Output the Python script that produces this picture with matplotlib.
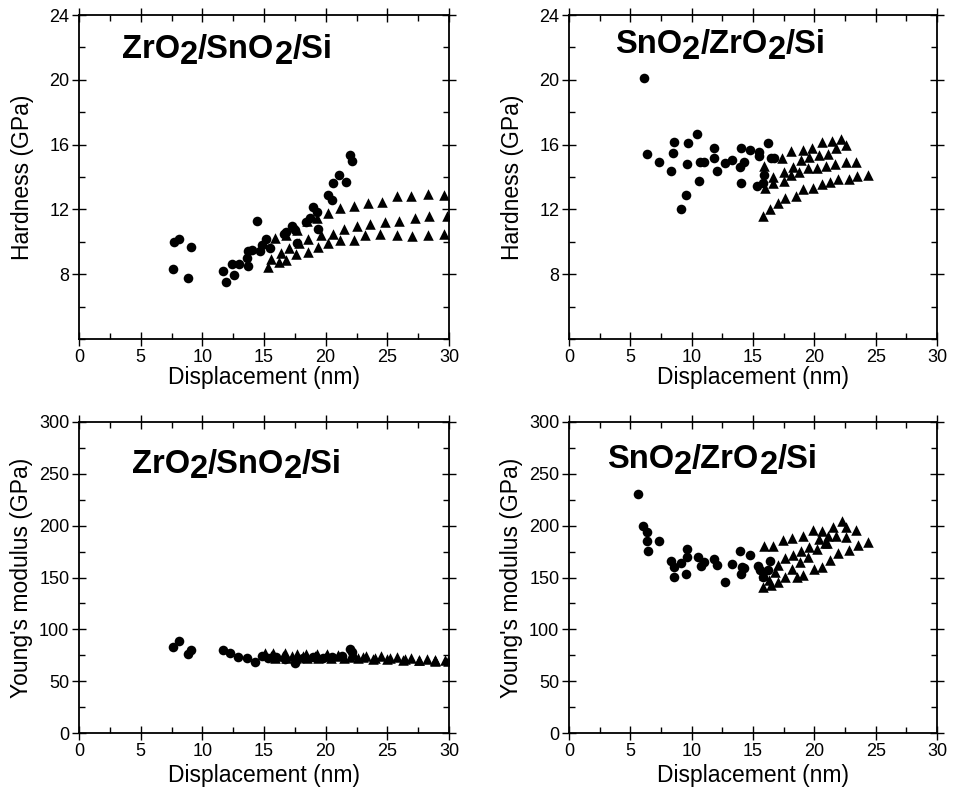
import matplotlib
matplotlib.use("Agg")
import matplotlib.pyplot as plt
from matplotlib.ticker import MultipleLocator

plt.rcParams['font.family'] = ['Liberation Sans', 'DejaVu Sans']

# ---------------- data ----------------
# Panel A: ZrO2/SnO2/Si hardness
a_circ_x = [7.7, 8.13, 9.08, 7.65, 8.8, 11.7, 11.9, 12.38, 12.6, 13.0, 13.7, 13.6, 13.7, 14.06, 14.4,
            14.7, 14.8, 15.2, 15.5, 16.6, 16.8, 17.3, 17.5, 17.65, 18.4, 18.7, 19.0, 19.3, 19.4,
            20.2, 20.5, 20.6, 21.1, 21.65, 22.0, 22.1]
a_circ_y = [10.0, 10.2, 9.65, 8.31, 7.77, 8.19, 7.53, 8.66, 7.94, 8.6, 8.5, 9.0, 9.44, 9.48, 11.3,
            9.44, 9.8, 10.2, 9.6, 10.5, 10.6, 11.0, 10.7, 9.9, 11.2, 11.5, 12.16, 11.85, 10.8,
            12.9, 12.6, 13.6, 14.1, 13.7, 15.35, 15.0]
a_tri_x = [15.35, 16.2, 16.8, 17.6, 18.6, 19.4, 20.2, 21.2, 22.3, 23.2, 24.4, 25.8, 27.0, 28.3, 29.6,
           15.6, 16.4, 17.05, 17.8, 18.6, 19.6, 20.6, 21.5, 22.5, 23.6, 24.8, 25.97, 27.25, 28.4, 29.8,
           15.9, 16.8, 17.65, 18.5, 19.3, 20.2, 21.2, 22.3, 23.4, 24.6, 25.8, 26.9, 28.3, 29.6]
a_tri_y = [8.42, 8.76, 8.9, 9.24, 9.38, 9.65, 9.94, 10.1, 10.1, 10.4, 10.5, 10.4, 10.37, 10.4, 10.5,
           8.93, 9.28, 9.59, 9.9, 10.2, 10.4, 10.5, 10.8, 11.0, 11.1, 11.2, 11.3, 11.45, 11.6, 11.6,
           10.25, 10.4, 10.7, 11.3, 11.5, 11.75, 12.06, 12.2, 12.4, 12.47, 12.8, 12.84, 12.92, 12.9]

# Panel B: SnO2/ZrO2/Si hardness
b_circ_x = [6.11, 6.33, 7.36, 8.56, 8.5, 8.29, 9.5, 9.1, 9.67, 9.59, 10.4, 10.6, 10.7, 11.0, 11.8,
            11.8, 12.04, 12.7, 13.26, 14.0, 13.9, 14.3, 14.0, 14.75, 15.5, 15.5, 15.35, 16.2, 16.5,
            16.7, 15.9, 15.8]
b_circ_y = [20.09, 15.41, 14.94, 16.17, 15.5, 14.38, 12.9, 12.02, 16.07, 14.8, 16.63, 13.77, 14.9, 14.9,
            15.8, 15.2, 14.38, 14.88, 15.04, 15.77, 14.6, 14.94, 13.64, 15.66, 15.56, 15.3, 13.46, 16.1,
            15.15, 15.2, 14.1, 13.6]
b_tri_x = [15.8, 16.4, 17.0, 17.6, 18.5, 19.05, 19.9, 20.6, 21.3, 21.9, 22.8, 23.5, 24.4,
           16.0, 16.65, 17.5, 18.07, 18.77, 19.5, 20.2, 20.95, 21.7, 22.55, 23.4,
           15.9, 16.6, 17.5, 18.3, 18.9, 19.6, 20.4, 21.1, 21.8, 22.55,
           17.4, 18.07, 19.05, 19.8, 20.6, 21.4, 22.2]
b_tri_y = [11.6, 12.0, 12.37, 12.7, 12.8, 13.23, 13.3, 13.54, 13.7, 13.9, 13.9, 14.06, 14.1,
           13.3, 13.6, 13.77, 14.1, 14.3, 14.53, 14.57, 14.7, 14.8, 14.94, 14.94,
           14.67, 14.0, 14.3, 14.6, 15.04, 15.25, 15.35, 15.45, 15.77, 15.97,
           15.2, 15.6, 15.66, 15.77, 16.17, 16.2, 16.34]

# Panel C: ZrO2/SnO2/Si Young's modulus
c_circ_x = [7.6, 8.13, 8.8, 9.1, 11.7, 12.25, 12.9, 13.6, 14.3, 14.8, 15.3, 16.0, 16.7, 17.5,
            18.2, 19.0, 19.8, 20.5, 21.3, 22.0, 22.1]
c_circ_y = [83.2, 88.7, 75.9, 80.0, 80.0, 76.9, 73.6, 72.0, 68.8, 74.0, 72.0, 73.0, 71.0, 67.2,
            72.0, 73.0, 72.5, 73.0, 74.0, 81.0, 78.0]
c_tri_x = [15.1, 15.7, 16.7, 17.65, 18.4, 19.3, 20.1, 21.0, 22.3, 23.3, 24.5, 25.8, 26.9, 28.2, 28.9, 29.7,
           15.6, 16.5, 17.3, 18.2, 19.1, 20.0, 21.0, 22.0, 23.0, 24.0, 25.2, 26.4, 27.6, 28.9, 29.9,
           15.9, 16.8, 17.6, 18.5, 19.4, 20.4, 21.5, 22.6, 23.8, 25.0, 26.3, 27.6, 28.9]
c_tri_y = [77.0, 77.5, 77.0, 76.5, 76.5, 76.0, 76.0, 75.5, 75.0, 74.5, 74.0, 73.0, 72.5, 71.5, 70.5, 70.0,
           74.0, 74.5, 74.0, 74.0, 74.0, 74.0, 74.0, 73.5, 73.0, 72.5, 72.0, 71.0, 70.5, 70.0, 69.0,
           72.0, 72.0, 72.0, 72.5, 72.5, 72.5, 72.5, 72.0, 71.5, 71.0, 70.5, 70.0, 69.0]

# Panel D: SnO2/ZrO2/Si Young's modulus
d_circ_x = [5.6, 6.06, 6.33, 6.33, 6.47, 7.36, 8.29, 8.56, 8.56, 9.1, 9.64, 9.64, 9.54, 10.54, 10.73,
            11.03, 11.8, 12.04, 12.7, 13.3, 13.9, 14.07, 14.26, 14.0, 14.75, 15.43, 15.6, 16.4,
            16.24, 15.84]
d_circ_y = [231, 200, 193.6, 185.2, 175.3, 185.2, 165.9, 160.4, 150.8, 163.7, 177.8, 169.5, 153.1,
            169.5, 161.1, 165, 167.5, 162, 145.3, 162.7, 175.8, 160.4, 158.8, 153.4, 171.7, 161.1,
            157.2, 165.9, 157.2, 150.8]
d_tri_x = [15.9, 16.65, 17.47, 18.15, 19.04, 19.86, 20.6, 21.5, 22.28, 22.6, 23.4, 24.4,
           20.4, 21.0, 22.6, 23.6,
           17.0, 17.6, 18.3, 18.9, 19.6, 20.2, 20.9, 21.1, 21.8,
           15.8, 16.5, 17.0, 17.6, 18.15, 18.8, 18.56, 19.1, 19.5, 20.0, 20.6, 21.3, 21.9, 22.8,
           15.9, 16.3, 16.8]
d_tri_y = [180.4, 180.4, 186.2, 188.4, 190.3, 195.8, 195.1, 199, 204.5, 199, 195.8, 184.5,
           186.8, 183.3, 189.4, 181.4,
           162, 168.5, 171.7, 175.6, 179.7, 177.5, 183.6, 190.3, 190.3,
           141.1, 142.8, 146, 150.8, 157.9, 164.7, 150.2, 152.4, 170.1, 158.2, 159.8, 166.9, 173.3, 176.5,
           152, 148, 155]

titles = [[("ZrO", 0), ("2", 1), ("/SnO", 0), ("2", 1), ("/Si", 0)],
          [("SnO", 0), ("2", 1), ("/ZrO", 0), ("2", 1), ("/Si", 0)],
          [("ZrO", 0), ("2", 1), ("/SnO", 0), ("2", 1), ("/Si", 0)],
          [("SnO", 0), ("2", 1), ("/ZrO", 0), ("2", 1), ("/Si", 0)]]

# ---------------- figure ----------------
W, H = 956, 799
fig = plt.figure(figsize=(W / 100, H / 100), dpi=100)


def px_axes(l, t, r, b):
    return fig.add_axes([l / W, 1 - b / H, (r - l) / W, (b - t) / H])


axA = px_axes(79, 15, 449, 339)
axB = px_axes(569, 15, 937, 339)
axC = px_axes(79, 422, 449, 733)
axD = px_axes(569, 422, 937, 733)


def chem_title(ax, parts, x, y, fs=23.5, shift=4.0):
    prev = ax.text(x, y, parts[0][0], transform=ax.transAxes, fontsize=fs,
                   fontweight='bold', ha='left', va='baseline')
    cur_sub = parts[0][1]
    for txt, sub in parts[1:]:
        dy = 0
        if sub and not cur_sub:
            dy = -shift
        elif cur_sub and not sub:
            dy = shift
        prev = ax.annotate(txt, xy=(1, 0), xycoords=prev, xytext=(0, dy),
                           textcoords='offset points', fontsize=fs,
                           fontweight='bold', ha='left', va='bottom')
        cur_sub = sub


def style(ax, ylim, ymaj, ymin, ylabel, ylpad, xlpad):
    ax.set_xlim(0, 30)
    ax.set_ylim(*ylim)
    ax.xaxis.set_major_locator(MultipleLocator(5))
    ax.xaxis.set_minor_locator(MultipleLocator(2.5))
    ax.set_yticks(ymaj)
    ax.yaxis.set_minor_locator(MultipleLocator(ymin))
    ax.tick_params(which='major', direction='inout', length=10, width=1.0,
                   top=True, right=True, labelsize=13, pad=2)
    ax.tick_params(which='minor', direction='in', length=4.5, width=1.0,
                   top=True, right=True)
    for s in ax.spines.values():
        s.set_linewidth(1.3)
    ax.set_xlabel("Displacement (nm)", fontsize=16.5, labelpad=xlpad)
    ax.set_ylabel(ylabel, fontsize=16.5, labelpad=ylpad)


ms = 48
panels = [
    (axA, a_circ_x, a_circ_y, a_tri_x, a_tri_y, (4, 24), [8, 12, 16, 20, 24], 2, "Hardness (GPa)", (0.116, 0.867), 11, 0),
    (axB, b_circ_x, b_circ_y, b_tri_x, b_tri_y, (4, 24), [8, 12, 16, 20, 24], 2, "Hardness (GPa)", (0.125, 0.882), 11, 0),
    (axC, c_circ_x, c_circ_y, c_tri_x, c_tri_y, (0, 300), list(range(0, 301, 50)), 25, "Young's modulus (GPa)", (0.142, 0.837), 4, 3),
    (axD, d_circ_x, d_circ_y, d_tri_x, d_tri_y, (0, 300), list(range(0, 301, 50)), 25, "Young's modulus (GPa)", (0.103, 0.852), 4, 3),
]

for i, (ax, cx, cy, tx, ty, yl, ymaj, ymin, ylab, tpos, ylpad, xlpad) in enumerate(panels):
    ax.scatter(cx, cy, s=ms, marker='o', color='black', linewidths=0, zorder=3)
    ax.scatter(tx, ty, s=ms * 1.2, marker='^', color='black', linewidths=0, zorder=3)
    style(ax, yl, ymaj, ymin, ylab, ylpad, xlpad)
    chem_title(ax, titles[i], *tpos)

fig.savefig("out.png", dpi=100)
